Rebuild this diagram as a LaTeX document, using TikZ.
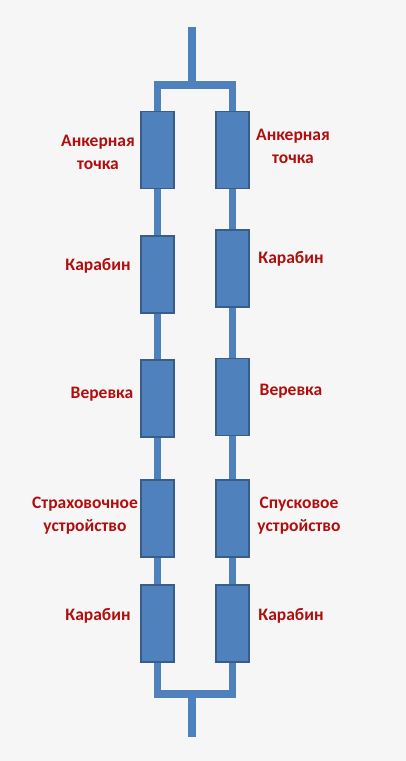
\documentclass[tikz,border=0pt]{standalone}
\usepackage{fontspec}
\setmainfont{Carlito}
\definecolor{elemblue}{RGB}{79,129,189}
\definecolor{elemedge}{RGB}{56,93,138}
\definecolor{lblred}{RGB}{176,14,14}
\definecolor{paper}{RGB}{246,246,246}
\tikzset{
 elem/.style={draw=elemedge, line width=1.3pt, fill=elemblue, rectangle, minimum width=33pt, minimum height=77pt, inner sep=0pt},
 wire/.style={draw=elemblue, line width=7.5pt},
 lbl/.style={text=lblred, font=\fontsize{17.5}{23}\selectfont\bfseries, align=center, inner sep=0pt}
}
\begin{document}
\begin{tikzpicture}[x=1pt,y=-1pt]
 \fill[paper] (0,0) rectangle (406,761);
 \useasboundingbox (0,0) rectangle (406,761);

 \coordinate (in) at (192,27);
 \coordinate (jt) at (192,85);
 \coordinate (jb) at (192,694);
 \coordinate (out) at (192,737);

 \node[elem] (L1) at (157.5,150) {};
 \node[elem] (L2) at (157.5,274.5) {};
 \node[elem] (L3) at (157.5,398.5) {};
 \node[elem] (L4) at (157.5,518.5) {};
 \node[elem] (L5) at (157.5,623.5) {};

 \node[elem] (R1) at (232.5,150) {};
 \node[elem] (R2) at (232.5,268.5) {};
 \node[elem] (R3) at (232.5,397) {};
 \node[elem] (R4) at (232.5,518.5) {};
 \node[elem] (R5) at (232.5,623.5) {};

 \draw[wire] (in) -- (jt);
 \draw[wire] (L1.north) |- (jt) -| (R1.north);
 \draw[wire] (L1.south) -- (L2.north) (L2.south) -- (L3.north) (L3.south) -- (L4.north) (L4.south) -- (L5.north);
 \draw[wire] (R1.south) -- (R2.north) (R2.south) -- (R3.north) (R3.south) -- (R4.north) (R4.south) -- (R5.north);
 \draw[wire] (L5.south) |- (jb) -| (R5.south);
 \draw[wire] (jb) -- (out);

 \node[lbl] (tL1) at (98,152) {Анкерная\\точка};
 \node[lbl] (tL2) at (98,266) {Карабин};
 \node[lbl] (tL3) at (102,394) {Веревка};
 \node[lbl] (tL4) at (85,516) {Страховочное\\устройство};
 \node[lbl] (tL5) at (98,616) {Карабин};

 \node[lbl] (tR1) at (293,146) {Анкерная\\точка};
 \node[lbl] (tR2) at (291,259) {Карабин};
 \node[lbl] (tR3) at (291,391) {Веревка};
 \node[lbl] (tR4) at (299,516) {Спусковое\\устройство};
 \node[lbl] (tR5) at (291,616) {Карабин};
\end{tikzpicture}
\end{document}
